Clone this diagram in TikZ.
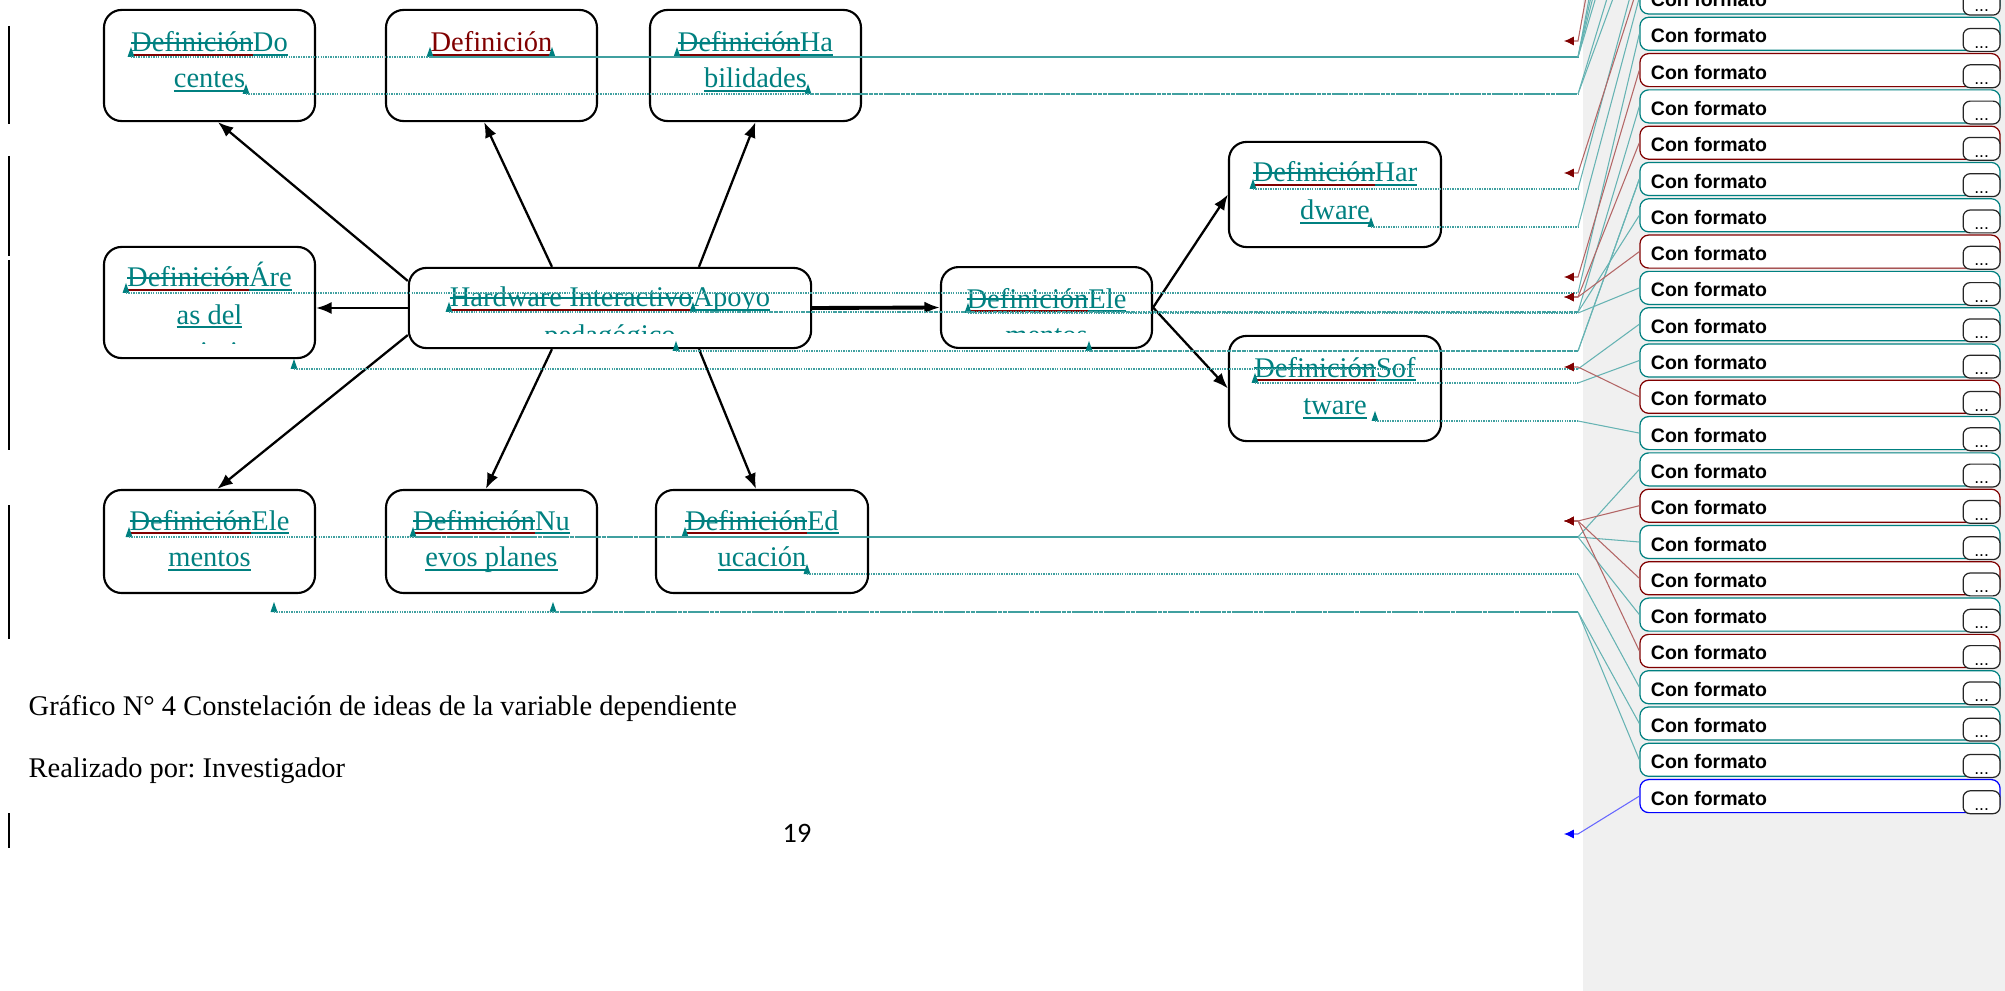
\documentclass[tikz,border=0pt]{standalone}
\usepackage{fontspec}
\setmainfont{Liberation Serif}
\newfontfamily\balfont{Liberation Sans}
\newfontfamily\pagefont{Carlito}
\usepackage{xcolor}
\usetikzlibrary{arrows.meta, math}
\definecolor{qteal}{RGB}{0,128,128}
\definecolor{qred}{RGB}{128,0,0}
\definecolor{qblue}{RGB}{0,0,255}
\frenchspacing
\newcommand\delw[1]{\setbox0\hbox{#1}\rlap{\color{qred}\rule[-1.2pt]{\wd0}{0.75pt}}\rlap{\color{qteal}\rule[2.3pt]{\wd0}{0.5pt}}\box0}
\newcommand\insw[1]{\setbox0\hbox{#1}\rlap{\color{qteal}\rule[-1.2pt]{\wd0}{0.6pt}}\box0}
\newcommand\redw[1]{\setbox0\hbox{#1}\rlap{\color{qred}\rule[-1.2pt]{\wd0}{0.75pt}}\box0}

\begin{document}
\begin{tikzpicture}[x=0.01cm,y=-0.01cm,
 idea/.style={draw, line width=0.6pt, rounded corners=5pt, minimum width=60pt, inner sep=0pt},
 txt/.style={anchor=base, inner sep=0pt, text=qteal, font=\fontsize{8.1}{9.7}\selectfont},
 captxt/.style={anchor=base west, inner sep=0pt, font=\fontsize{8.1}{9.7}\selectfont},
 link/.style={line width=0.65pt, -{Latex[length=4.4pt,width=3.4pt]}},
 cdot/.style={qteal!75, line width=0.3pt, dash pattern=on 0.4pt off 0.3pt},
 cline/.style={qteal!60, line width=0.3pt},
 rline/.style={qred!60, line width=0.3pt, -{Latex[length=2.8pt,width=2.6pt,color=qred]}},
 balloon/.style={draw=#1, fill=white, line width=0.35pt, rounded corners=2.5pt, minimum width=102.4pt, minimum height=9.4pt, inner sep=0pt},
 cf/.style={anchor=base west, inner sep=0pt, font=\balfont\bfseries\fontsize{5.55}{6}\selectfont},
 dotbox/.style={draw=black!85, fill=white, line width=0.35pt, rounded corners=2pt, minimum width=10.5pt, minimum height=6.5pt, inner sep=0pt, anchor=south east}
]
\tikzmath{
\bx=1820;
\bs=36.3;
}
\useasboundingbox (0,0) rectangle (2005,991);
\clip (0,0) rectangle (2005,991);

%margin:
\fill[gray!12] (1583,0) rectangle (2005,991);
\foreach \a/\b in {26/124,156/256,260/450,505/639,813/848}
 \draw[line width=0.35pt] (9,\a) -- (9,\b);

%boxes:
\node[idea, minimum height=31.6pt] (doc) at (209.5,65.5) {};
\node[idea, minimum height=31.6pt] (def) at (491.5,65.5) {};
\node[idea, minimum height=31.6pt] (hab) at (755.5,65.5) {};
\node[idea, minimum height=31.6pt] (are) at (209.5,302.5) {};
\node[idea, minimum width=114.4pt, minimum height=22.8pt] (hw) at (610,308) {};
\node[idea, minimum height=23pt] (ele) at (1046.5,307.5) {};
\node[idea, minimum width=60.3pt, minimum height=29.9pt] (hard) at (1335,194.5) {};
\node[idea, minimum width=60.3pt, minimum height=29.9pt] (soft) at (1335,388.5) {};
\node[idea, minimum height=29.3pt] (bel) at (209.5,541.5) {};
\node[idea, minimum height=29.3pt] (nue) at (491.5,541.5) {};
\node[idea, minimum width=60.3pt, minimum height=29.3pt] (edu) at (762,541.5) {};

%texts:
\node[txt] (doc1) at (209.5,52) {\delw{Definición}\insw{Do}};
\node[txt] (doc2) at (209.5,88) {\insw{centes}};
\node[txt, text=qred] (def1) at (491.5,52) {\redw{Definición}};
\node[txt] (hab1) at (755.5,52) {\delw{Definición}\insw{Ha}};
\node[txt] (hab2) at (755.5,88) {\insw{bilidades}};
\node[txt] (are1) at (209.5,287) {\delw{Definición}\insw{Áre}};
\node[txt] (are2) at (209.5,324) {\insw{as del}};
\node[txt] (hw1) at (610,307) {\delw{Hardware Interactivo}\insw{Apoyo}};
\node[txt] (ele1) at (1046.5,308) {\delw{Definición}\insw{Ele}};
\node[txt] (hard1) at (1335,182) {\delw{Definición}\insw{Har}};
\node[txt] (hard2) at (1335,220) {\insw{dware}};
\node[txt] (soft1) at (1335,377) {\delw{Definición}\insw{Sof}};
\node[txt] (soft2) at (1335,415) {\insw{tware}};
\node[txt] (bel1) at (209.5,530) {\delw{Definición}\insw{Ele}};
\node[txt] (bel2) at (209.5,567) {\insw{mentos}};
\node[txt] (nue1) at (491.5,530) {\delw{Definición}\insw{Nu}};
\node[txt] (nue2) at (491.5,567) {\insw{evos planes}};
\node[txt] (edu1) at (762,530) {\delw{Definición}\insw{Ed}};
\node[txt] (edu2) at (762,567) {\insw{ucación}};
\begin{scope}
 \clip (104,247) rectangle (315,344);
 \node[txt] (are3) at (209.5,361) {\insw{conocimiento}};
\end{scope}
\begin{scope}
 \clip (409,268) rectangle (811,334);
 \node[txt] (hw2) at (610,344) {\insw{pedagógico}};
\end{scope}
\begin{scope}
 \clip (941,267) rectangle (1152,333);
 \node[txt] (ele2) at (1046.5,345) {\insw{mentos}};
\end{scope}

%arrows:
\draw[link] ([yshift=7.7pt]hw.west) -- ([xshift=2.4pt]doc.south);
\draw[link] ([xshift=-16.5pt]hw.north) -- ([xshift=-2.1pt]def.south);
\draw[link] ([xshift=25.3pt]hw.north) -- (hab.south);
\draw[link] (hw.west) -- (hw.west -| are.east);
\draw[link] ([yshift=-7.7pt]hw.west) -- ([xshift=2.2pt]bel.north);
\draw[link] ([xshift=-16.5pt]hw.south) -- ([xshift=-1.6pt]nue.north);
\draw[link] ([xshift=25.3pt]hw.south) -- ([xshift=-1.7pt]edu.north);
\draw[link, line width=1.1pt] (hw.east) -- (ele.west);
\draw[link] (ele.east) -- (hard.west);
\draw[link] (ele.east) -- (soft.west);

%balloons:
\foreach \k/\c in {0/qteal,1/qteal,2/qred,3/qteal,4/qred,5/qteal,6/qteal,7/qred,8/qteal,9/qteal,10/qteal,11/qred,12/qteal,13/qteal,14/qred,15/qteal,16/qred,17/qteal,18/qred,19/qteal,20/qteal,21/qteal,22/qblue}{
 \tikzmath{
   \by=33.8+(\k-1)*\bs;
  }
 \node[balloon=\c] (b\k) at (\bx,\by) {};
 \coordinate (bw\k) at (b\k.west);
 \node[cf] (c\k) at ([xshift=3.1pt,yshift=-2.56pt]b\k.west) {Con formato};
 \node[dotbox] (e\k) at ([yshift=-0.3pt]b\k.south east) {};
 \node[anchor=base, inner sep=0pt, font=\balfont\fontsize{5}{5}\selectfont] (d\k) at ([yshift=1.1pt]e\k.south) {...};
}

%markers:
\coordinate (ax) at (1578,0);
\foreach \m/\x/\y in {m1/131/57,m2/246/94,m3/430/57,m4/552/57,m5/677/57,m6/808/94,m7/126/293,m8/294/369,m9/449/312,m10/693/312,m11/676/351,m12/968/313,m13/1089/351,m14/1253/189,m15/1371/227,m16/1255/383,m17/1375/421,m18/129/537,m19/274/612,m20/413/537,m21/553/612,m22/685/537,m23/807/574}{
 \coordinate (\m) at (\x,\y);
 \fill[qteal] (\m) ++(-3.5,0) -- ++(7,0) -- ++(-3.5,-10) -- cycle;
}
\foreach \t/\y in {t1/-150,t2/-190,t3/-230,t4/-270,t5/-75,t6/-110,t7/-40,t8/-300,t9/-20}
 \coordinate (\t) at (1640,\y);
\foreach \m/\b in {m1/t4,m3/t3,m4/t2,m5/t1,m2/t6,m6/t5,m14/t7,m15/bw0,m7/bw1,m9/bw3,m11/bw5,m13/bw5,m10/bw6,m12/bw8,m8/bw9,m16/bw10,m17/bw12,m18/bw13,m20/bw15,m22/bw17,m23/bw19,m19/bw20,m21/bw21}{
 \draw[cdot] (\m) -- (\m -| ax);
 \draw[cline] (\m -| ax) -- (\b);
}

%deletions:
\foreach \y [count=\i] in {41,173,277,297,367,521}
 \coordinate (ra\i) at (1564,\y);
\coordinate (rb) at (1564,834);
\foreach \b/\a in {t8/ra1,t9/ra2,bw2/ra3,bw4/ra4,bw7/ra4,bw11/ra5,bw14/ra6,bw16/ra6,bw18/ra6}
 \draw[rline] (\b) -- (\a -| ax) -- (\a);
\draw[qblue!60, line width=0.3pt, -{Latex[length=2.8pt,width=2.6pt,color=qblue]}] (bw22) -- (rb -| ax) -- (rb);

%caption:
\node[captxt] (cap) at (28,715) {Gráfico N° 4 Constelación de ideas de la variable dependiente};
\node[captxt] (auth) at (28,777) {Realizado por: Investigador};
\node[anchor=base, inner sep=0pt, font=\pagefont\fontsize{8}{9}\selectfont] (pg) at (797,842) {19};
\end{tikzpicture}
\end{document}
